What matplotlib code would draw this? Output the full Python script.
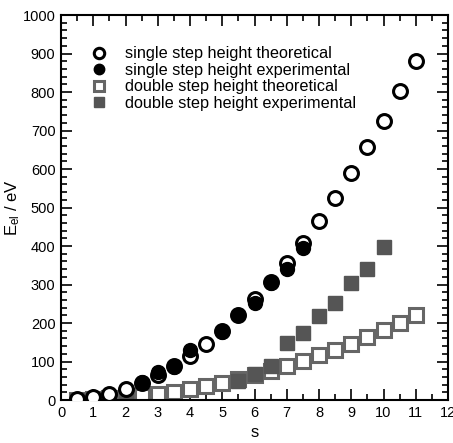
"""
Elastic energy vs step number s, single and double step height.
"""

import matplotlib
matplotlib.use("Agg")
import matplotlib.pyplot as plt
from matplotlib.ticker import MultipleLocator

plt.rcParams['font.family'] = ['Liberation Sans', 'DejaVu Sans']
plt.rcParams['mathtext.fontset'] = 'custom'
plt.rcParams['mathtext.rm'] = 'Liberation Sans'
plt.rcParams['mathtext.it'] = 'Liberation Sans:italic'

# data
s_single_th = [0.5, 1, 1.5, 2, 2.5, 3, 3.5, 4, 4.5, 5, 5.5, 6, 6.5, 7, 7.5,
               8, 8.5, 9, 9.5, 10, 10.5, 11]
e_single_th = [2, 7, 16, 28, 45, 65, 88, 115, 146, 180, 220, 262, 306, 355, 408,
               465, 525, 590, 657, 726, 802, 880]

s_single_exp = [2.5, 3, 3.5, 4, 5, 5.5, 6, 6.5, 7, 7.5]
e_single_exp = [47, 73, 87, 130, 176, 221, 252, 304, 340, 395]

s_double_th = [0.5, 1, 1.5, 2, 2.5, 3, 3.5, 4, 4.5, 5, 5.5, 6, 6.5, 7, 7.5,
               8, 8.5, 9, 9.5, 10, 10.5, 11]
e_double_th = [0.5, 2, 4, 7, 11, 16, 22, 29, 37, 45, 55, 65, 75, 89, 102,
               116, 131, 145, 164, 182, 200, 220]

s_double_exp = [0.5, 1, 1.5, 2, 5.5, 6, 6.5, 7, 7.5, 8, 8.5, 9, 9.5, 10]
e_double_exp = [0, 2, 4, 6, 49, 68, 88, 148, 174, 218, 252, 304, 340, 397]

GRAY_EDGE = '#666666'
GRAY_FILL = '#555555'

fig = plt.figure(figsize=(4.53, 4.43), dpi=100)
ax = fig.add_axes([0.1347, 0.097, 0.8543, 0.869])

ms = 10
ax.plot(s_double_th, e_double_th, 's', ms=ms, mfc='white', mec=GRAY_EDGE, mew=2.2,
        label='double step height theoretical', zorder=2)
ax.plot(s_double_exp, e_double_exp, 's', ms=ms, mfc=GRAY_FILL, mec=GRAY_FILL, mew=1,
        label='double step height experimental', zorder=2)
ax.plot(s_single_th, e_single_th, 'o', ms=ms, mfc='white', mec='black', mew=2.2,
        label='single step height theoretical', zorder=3)
ax.plot(s_single_exp, e_single_exp, 'o', ms=ms, mfc='black', mec='black', mew=1,
        label='single step height experimental', zorder=3)

ax.set_xlim(0, 12)
ax.set_ylim(0, 1000)
ax.xaxis.set_major_locator(MultipleLocator(1))
ax.xaxis.set_minor_locator(MultipleLocator(0.5))
ax.yaxis.set_major_locator(MultipleLocator(100))
ax.yaxis.set_minor_locator(MultipleLocator(20))
ax.tick_params(which='both', direction='in', top=True, right=True,
               labelsize=10.5, width=1.2, zorder=5)
ax.tick_params(which='major', length=8, pad=4)
ax.tick_params(which='minor', length=4)
for sp in ax.spines.values():
    sp.set_linewidth(1.5)

ax.set_xlabel('s', fontsize=12, labelpad=4)
ax.set_ylabel(r'E$_{\rm el}$ / eV', fontsize=12)
ax.yaxis.set_label_coords(-0.1, 0.5)

h, l = ax.get_legend_handles_labels()
order = [2, 3, 0, 1]
ax.legend([h[i] for i in order], [l[i] for i in order], loc='upper left',
          bbox_to_anchor=(0.035, 0.957), frameon=False, fontsize=11.7,
          handletextpad=1.0, labelspacing=0.1, handlelength=1.2, markerscale=0.75)

fig.savefig('out.png', dpi=100)
